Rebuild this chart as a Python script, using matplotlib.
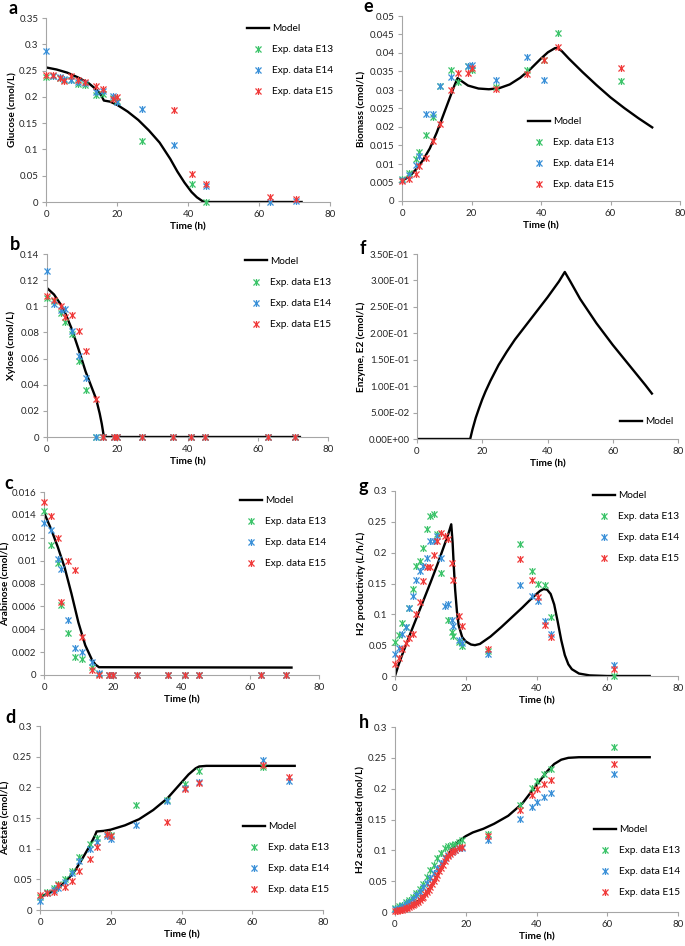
import numpy as np
import matplotlib
matplotlib.use("Agg")
from matplotlib import pyplot as plt
from matplotlib.path import Path
from matplotlib.ticker import FuncFormatter

nan = np.nan
plt.rcParams['font.family'] = ['Lato', 'DejaVu Sans']

# sampling times of the batch experiments (h)
t_exp = [0, 2, 4, 5, 7, 9, 11, 14, 16, 19, 20, 27, 36, 41, 45, 63, 70.5]

# a - glucose
glu_model_t = [0, 3, 6, 9, 12, 14, 15.5, 16.3, 18, 20, 23, 26, 29, 32, 35, 37, 39, 41, 42.5, 44, 45, 50, 60, 72]
glu_model = [0.256, 0.252, 0.246, 0.237, 0.226, 0.215, 0.204, 0.193, 0.191, 0.185, 0.172, 0.156, 0.136,
             0.113, 0.082, 0.058, 0.037, 0.019, 0.009, 0.002, 0.0, 0.0, 0.0, 0.0]
glu_e13 = [0.238, 0.240, 0.236, 0.232, 0.232, 0.225, 0.222, 0.203, 0.205, 0.198, 0.193, 0.116, nan, 0.035, 0.0, nan, nan]
glu_e14 = [0.288, 0.240, 0.237, 0.234, 0.233, 0.228, 0.227, 0.210, 0.211, 0.202, 0.190, 0.177, 0.108, nan, 0.031, 0.0, 0.002]
glu_e15 = [0.241, 0.241, 0.236, 0.231, 0.240, 0.232, 0.228, 0.221, 0.215, 0.196, 0.200, nan, 0.175, 0.054, 0.035, 0.010, 0.005]

# b - xylose
xyl_model_t = [0, 2, 4, 5, 7, 9, 11, 12, 13, 14, 15, 15.6, 16.2, 72]
xyl_model = [0.114, 0.109, 0.101, 0.096, 0.083, 0.067, 0.050, 0.043, 0.036, 0.029, 0.018, 0.010, 0.0, 0.0]
xyl_e13 = [0.106, 0.104, 0.095, 0.088, 0.079, 0.058, 0.036, 0.0, 0.0, 0.0, 0.0, 0.0, 0.0, 0.0, 0.0, 0.0, 0.0]
xyl_e14 = [0.127, 0.102, 0.097, 0.098, 0.081, 0.062, 0.045, 0.0, 0.0, 0.0, 0.0, 0.0, 0.0, 0.0, 0.0, 0.0, 0.0]
xyl_e15 = [0.108, 0.105, 0.100, 0.092, 0.093, 0.081, 0.066, 0.029, 0.0, 0.0, 0.0, 0.0, 0.0, 0.0, 0.0, 0.0, 0.0]

# c - arabinose
ara_model_t = [0, 2, 4, 6, 8, 10, 12, 14, 15, 16, 72]
ara_model = [0.0142, 0.0128, 0.0112, 0.0094, 0.0071, 0.0046, 0.0026, 0.0013, 0.0009, 0.00068, 0.00065]
ara_e13 = [0.0143, 0.0114, 0.0098, 0.0061, 0.0037, 0.0016, 0.0014, 0.0007, 0.0001, 0, 0, 0, 0, 0, 0, 0, 0]
ara_e14 = [0.0133, 0.0127, 0.0101, 0.0093, 0.0048, 0.0024, 0.0020, 0.0011, 0.0002, 0, 0, 0, 0, 0, 0, 0, 0]
ara_e15 = [0.0151, 0.0139, 0.0120, 0.0064, 0.0100, 0.0092, 0.0033, 0.0004, 0.0, 0, 0, 0, 0, 0, 0, 0, 0]

# d - acetate
ace_model_t = [0, 2, 4, 6, 8, 10, 12, 14, 15.5, 16, 18, 20, 24, 28, 32, 36, 40, 42, 44, 45, 47, 72]
ace_model = [0.022, 0.026, 0.032, 0.040, 0.051, 0.065, 0.084, 0.104, 0.121, 0.128, 0.129, 0.131, 0.138,
             0.148, 0.163, 0.182, 0.208, 0.221, 0.231, 0.234, 0.235, 0.235]
ace_e13 = [0.022, 0.029, 0.036, 0.042, 0.051, 0.064, 0.086, 0.107, 0.117, 0.124, 0.123, 0.171, 0.180, 0.206, 0.226, 0.233, nan]
ace_e14 = [0.015, 0.027, 0.033, 0.036, 0.046, 0.060, 0.080, 0.099, 0.111, 0.121, 0.116, 0.139, 0.177, 0.199, 0.209, 0.244, 0.210]
ace_e15 = [0.025, 0.027, 0.030, 0.041, 0.038, 0.048, 0.063, 0.083, 0.103, 0.124, 0.120, nan, 0.143, 0.197, 0.207, 0.236, 0.217]

# e - biomass
bio_model_t = [0, 2, 4, 6, 8, 10, 12, 14, 15, 16, 17, 19, 22, 25, 28, 31, 34, 37, 40, 42, 44, 44.8, 46,
               48, 52, 56, 60, 64, 68, 72]
bio_model = [0.0055, 0.0065, 0.0085, 0.011, 0.0142, 0.0185, 0.0235, 0.0285, 0.0310, 0.0332, 0.0325, 0.0312,
             0.0304, 0.0302, 0.0305, 0.0315, 0.0333, 0.0357, 0.0385, 0.0402, 0.0413, 0.0414, 0.0405,
             0.0385, 0.0348, 0.0313, 0.0280, 0.0251, 0.0224, 0.0199]
bio_e13 = [0.0060, 0.0077, 0.0113, 0.0133, 0.0178, 0.0228, 0.0310, 0.0353, 0.0322, 0.0365, 0.0355, 0.0308,
           0.0355, 0.0380, 0.0453, 0.0323, nan]
bio_e14 = [0.0058, 0.0070, 0.0097, 0.0122, 0.0236, 0.0236, 0.0310, 0.0334, nan, 0.0365, 0.0368, 0.0326,
           0.0388, 0.0326, nan, nan, nan]
bio_e15 = [0.0055, 0.0060, 0.0072, 0.0095, 0.0115, 0.0163, 0.0208, 0.0300, 0.0347, 0.0345, 0.0360, 0.0303,
           0.0344, 0.0382, 0.0417, 0.0359, nan]

# f - enzyme E2
enz_model_t = [0, 16.3, 17, 18, 19, 20, 21, 22.5, 24, 25, 27.5, 30, 35, 40, 43.5, 45.3, 47, 50, 55, 60, 65, 70, 72]
enz_model = [0, 0, 0.018, 0.040, 0.058, 0.075, 0.090, 0.110, 0.128, 0.140, 0.165, 0.188, 0.228, 0.268, 0.298,
             0.316, 0.298, 0.265, 0.219, 0.178, 0.140, 0.102, 0.086]

# g - H2 productivity
t_prod = [0, 1, 2, 3, 4, 5, 6, 7, 8, 9, 10, 11, 12, 13, 14, 15, 16, 16.5, 18, 19, 26.3, 35.4, 38.7, 40.4, 42.4, 44, 62]
prod_model_t = [0, 1, 2, 4, 6, 8, 10, 12, 14, 15, 15.9, 16.3, 16.6, 17, 17.5, 18, 19, 20, 21.5, 22.6, 24, 27,
                30, 33, 36, 39, 41, 42, 43, 44, 45, 46, 47, 48, 49, 50, 52, 55, 60, 72]
prod_model = [0, 0.018, 0.034, 0.064, 0.093, 0.122, 0.151, 0.181, 0.213, 0.229, 0.246, 0.215, 0.18, 0.14,
              0.105, 0.082, 0.063, 0.056, 0.051, 0.050, 0.052, 0.064, 0.079, 0.095, 0.111, 0.128, 0.138,
              0.141, 0.140, 0.133, 0.116, 0.088, 0.058, 0.034, 0.019, 0.011, 0.004, 0.001, 0.0, 0.0]
prod_e13 = [0.055, 0.066, 0.086, 0.080, 0.111, 0.141, 0.178, 0.187, 0.208, 0.239, 0.260, 0.262, 0.231, 0.167,
            nan, 0.091, 0.071, 0.065, 0.055, 0.049, 0.041, 0.214, 0.170, 0.150, 0.148, 0.096, 0.000]
prod_e14 = [0.035, 0.045, 0.068, 0.080, 0.111, 0.130, 0.156, 0.170, 0.178, 0.192, 0.219, 0.219, 0.227, 0.192,
            0.113, 0.116, 0.091, 0.081, 0.059, 0.054, 0.035, 0.147, 0.129, 0.121, 0.089, 0.068, 0.018]
prod_e15 = [0.019, 0.029, 0.043, 0.054, 0.062, 0.068, 0.101, 0.120, 0.154, 0.176, 0.177, 0.197, 0.219, 0.232,
            0.227, 0.222, 0.183, 0.155, 0.097, 0.081, 0.044, 0.189, 0.155, 0.128, 0.083, 0.063, 0.012]

# h - H2 accumulated
t_acc = [0, 1, 2, 3, 4, 5, 6, 7, 8, 9, 10, 11, 12, 13, 14, 15, 16, 17, 18, 19, 26.3, 35.2, 38.7, 40.2, 42.2, 44, 62]
t_acc_e15 = [0, 0.5, 1, 1.5, 2, 2.5, 3, 3.5, 4, 4.5, 5, 5.5, 6, 6.5, 7, 7.5, 8, 8.5, 9, 9.5, 10, 10.5, 11,
             11.5, 12, 12.5, 13, 13.5, 14, 14.5, 15, 15.5, 16, 16.5, 17, 18, 19,
             26.3, 35.2, 38.7, 40.2, 42.2, 44, 62]
acc_model_t = [0, 2, 4, 6, 8, 10, 12, 14, 16, 18, 20, 22, 25, 28, 32, 36, 40, 43, 45, 47, 49, 52, 72]
acc_model = [0.002, 0.004, 0.008, 0.015, 0.025, 0.040, 0.060, 0.082, 0.101, 0.115, 0.123, 0.129, 0.135,
             0.143, 0.156, 0.176, 0.206, 0.228, 0.240, 0.247, 0.250, 0.251, 0.251]
acc_e13 = [0.0065, 0.009, 0.012, 0.016, 0.020, 0.025, 0.031, 0.038, 0.046, 0.057, 0.068, 0.077, 0.087, 0.096,
           0.103, 0.107, 0.109, 0.110, 0.113, 0.117, 0.126, 0.174, 0.201, 0.212, 0.223, 0.232, 0.267]
acc_e14 = [0.005, 0.007, 0.010, 0.013, 0.017, 0.021, 0.027, 0.033, 0.040, 0.047, 0.055, 0.063, 0.071, 0.080,
           0.087, 0.093, 0.098, 0.101, 0.103, 0.104, 0.117, 0.151, 0.170, 0.178, 0.187, 0.193, 0.224]
acc_e15 = [0.002, 0.002, 0.003, 0.003, 0.004, 0.005, 0.006, 0.007, 0.008, 0.009, 0.011, 0.013, 0.015, 0.017,
           0.020, 0.022, 0.025, 0.029, 0.032, 0.036, 0.040, 0.045, 0.050, 0.055, 0.060, 0.066, 0.071, 0.077,
           0.082, 0.087, 0.091, 0.094, 0.097, 0.099, 0.101, 0.103, 0.106,
           0.124, 0.166, 0.190, 0.199, 0.208, 0.214, 0.240]

c13, c14, c15 = '#3CC46A', '#3A90D8', '#F03A3A'
axis_grey = '#A6A6A6'

# excel style "star" marker: x with a vertical bar
star = Path([(-1, -1), (1, 1), (-1, 1), (1, -1), (0, -1.15), (0, 1.15)],
            [Path.MOVETO, Path.LINETO] * 3)

W, H = 685, 946
fig = plt.figure(figsize=(W / 100, H / 100), dpi=100)


def general(v, pos):
    return f'{round(v, 6):g}'


def sci(v, pos):
    return '%.2E' % v


def panel(box, letter, letter_xy, ylab_x, ymax, ystep, ylabel, model, exps, leg_xy, fmt=general):
    # box in pixels: x0, x1, y0 (top), y1 (bottom)
    x0, x1, y0, y1 = box
    ax = fig.add_axes([x0 / W, 1 - y1 / H, (x1 - x0) / W, (y1 - y0) / H])
    ax.plot(model[0], model[1], color='black', lw=1.7, label='Model', zorder=2)
    for (tt, vals, col, lab) in exps:
        ax.plot(tt, vals, ls='none', marker=star, ms=5, mew=0.9, color=col, label=lab,
                clip_on=False, zorder=3)
    ax.set_xlim(0, 80)
    ax.set_ylim(0, ymax)
    ax.set_xticks(np.arange(0, 81, 20))
    ax.set_yticks(np.arange(0, ymax + ystep / 2, ystep))
    ax.yaxis.set_major_formatter(FuncFormatter(fmt))
    for s in ['top', 'right']:
        ax.spines[s].set_visible(False)
    for s in ['left', 'bottom']:
        ax.spines[s].set_color(axis_grey)
        ax.spines[s].set_linewidth(0.8)
    ax.tick_params(direction='out', length=3, width=0.8, color=axis_grey, labelsize=7,
                   labelcolor='#262626', pad=2.5)
    ax.set_xlabel('Time (h)', fontsize=7.2, fontweight='bold', labelpad=3)
    ax.set_ylabel(ylabel, fontsize=7.2, fontweight='bold')
    ax.yaxis.set_label_coords((ylab_x + 5 - x0) / (x1 - x0), 0.5)
    ax.legend(loc='upper left', bbox_to_anchor=leg_xy, frameon=False, fontsize=7.3,
              handlelength=2.2, handletextpad=0.25, labelspacing=1.18, borderaxespad=0, borderpad=0)
    fig.text(letter_xy[0] / W, 1 - letter_xy[1] / H, letter, fontsize=13, fontweight='bold',
             ha='center', va='center')
    return ax


panel((46, 330, 18, 202), 'a', (13, 8), 12, 0.35, 0.05, 'Glucose (cmol/L)',
      (glu_model_t, glu_model),
      [(t_exp, glu_e13, c13, 'Exp. data E13'), (t_exp, glu_e14, c14, 'Exp. data E14'),
       (t_exp, glu_e15, c15, 'Exp. data E15')], (0.708, 0.967))

panel((402, 680, 16, 201), 'e', (368, 7), 361, 0.05, 0.005, 'Biomass (cmol/L)',
      (bio_model_t, bio_model),
      [(t_exp, bio_e13, c13, 'Exp. data E13'), (t_exp, bio_e14, c14, 'Exp. data E14'),
       (t_exp, bio_e15, c15, 'Exp. data E15')], (0.453, 0.454))

panel((47, 328, 254, 437), 'b', (15, 244), 11, 0.14, 0.02, 'Xylose (cmol/L)',
      (xyl_model_t, xyl_model),
      [(t_exp, xyl_e13, c13, 'Exp. data E13'), (t_exp, xyl_e14, c14, 'Exp. data E14'),
       (t_exp, xyl_e15, c15, 'Exp. data E15')], (0.705, 0.984))

panel((417, 678, 254, 439), 'f', (363, 248), 361, 0.35, 0.05, 'Enzyme, E2 (cmol/L)',
      (enz_model_t, enz_model), [], (0.778, 0.119), fmt=sci)

panel((44, 319, 492, 675), 'c', (9, 483), 6, 0.016, 0.002, 'Arabinose (cmol/L)',
      (ara_model_t, ara_model),
      [(t_exp, ara_e13, c13, 'Exp. data E13'), (t_exp, ara_e14, c14, 'Exp. data E14'),
       (t_exp, ara_e15, c15, 'Exp. data E15')], (0.713, 0.978))

panel((395, 678, 491, 676), 'g', (363, 486), 361, 0.3, 0.05, 'H2 productivity (L/h/L)',
      (prod_model_t, prod_model),
      [(t_prod, prod_e13, c13, 'Exp. data E13'), (t_prod, prod_e14, c14, 'Exp. data E14'),
       (t_prod, prod_e15, c15, 'Exp. data E15')], (0.70, 1.0))

panel((40, 323, 726, 910), 'd', (10, 717), 6, 0.3, 0.05, 'Acetate (cmol/L)',
      (ace_model_t, ace_model),
      [(t_exp, ace_e13, c13, 'Exp. data E13'), (t_exp, ace_e14, c14, 'Exp. data E14'),
       (t_exp, ace_e15, c15, 'Exp. data E15')], (0.717, 0.478))

panel((395, 678, 727, 912), 'h', (364, 722), 360, 0.3, 0.05, 'H2 accumulated (mol/L)',
      (acc_model_t, acc_model),
      [(t_acc, acc_e13, c13, 'Exp. data E13'), (t_acc, acc_e14, c14, 'Exp. data E14'),
       (t_acc_e15, acc_e15, c15, 'Exp. data E15')], (0.703, 0.47))

fig.savefig('out.png', dpi=100)
